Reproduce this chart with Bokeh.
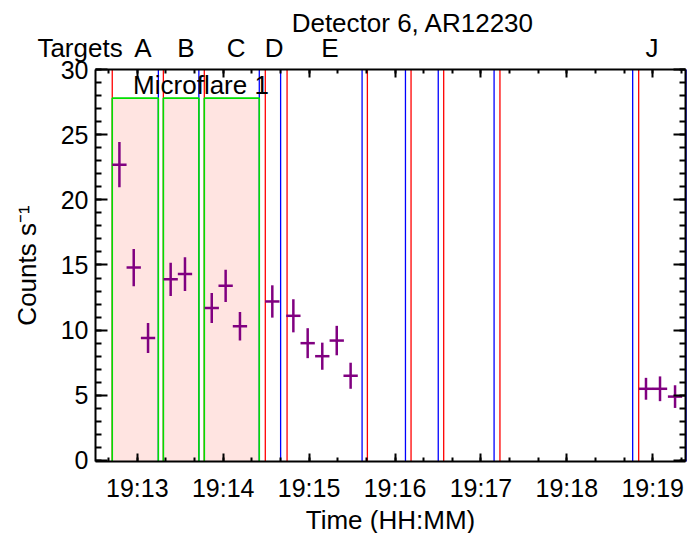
import numpy as np
from bokeh.plotting import figure
from bokeh.models import LinearAxis, FixedTicker, Range1d, CustomLabelingPolicy
from bokeh.core.properties import value
from bokeh.embed import file_html
from bokeh.resources import INLINE


def tmin(s):
    """'HH:MM:SS.s' -> minutes after 19:00"""
    h, m, sec = s.split(":")
    return (int(h) - 19) * 60 + int(m) + float(sec) / 60.0


# ---------------- data ----------------
bin_times = ["19:12:47.5", "19:12:57.5", "19:13:07.5", "19:13:23.3", "19:13:33.3",
             "19:13:52.0", "19:14:01.7", "19:14:11.7", "19:14:34.3", "19:14:49.0",
             "19:14:59.0", "19:15:09.2", "19:15:19.3", "19:15:29.0", "19:18:55.3",
             "19:19:05.1", "19:19:15.6"]
counts = [22.7, 14.8, 9.4, 13.9, 14.3, 11.7, 13.4, 10.3, 12.2, 11.1,
          9.0, 8.0, 9.2, 6.5, 5.5, 5.5, 4.9]
errors = [1.74, 1.43, 1.15, 1.28, 1.29, 1.15, 1.24, 1.09, 1.24, 1.27,
          1.15, 1.04, 1.13, 1.0, 0.84, 0.95, 0.87]
bin_width_s = 10.0

red_lines = ["19:12:42.5", "19:13:18.2", "19:13:46.8", "19:14:29.4", "19:14:44.6",
             "19:15:40.7", "19:16:11.2", "19:16:34.0", "19:17:13.3", "19:18:50.2"]
blue_lines = ["19:13:14.7", "19:13:43.0", "19:14:25.2", "19:14:40.1", "19:15:37.0",
              "19:16:07.3", "19:16:30.2", "19:17:09.2", "19:18:46.0", "19:19:23.3"]

box_start = ["19:12:42.5", "19:13:18.2", "19:13:46.8"]
box_end = ["19:13:14.7", "19:13:43.0", "19:14:25.2"]
box_top = 27.8
flare_label = "Microflare 1"
flare_label_time = "19:13:44.5"

target_names = ["Targets", "A", "B", "C", "D", "E", "J"]
target_times = ["19:12:20.0", "19:13:04.0", "19:13:34.0", "19:14:09.0",
                "19:14:35.5", "19:15:14.6", "19:18:59.5"]

title_text = "Detector 6, AR12230"
title_time = "19:16:12.6"

x_ticks = [13, 14, 15, 16, 17, 18, 19]
x_tick_labels = ["19:13", "19:14", "19:15", "19:16", "19:17", "19:18", "19:19"]
y_ticks = [0, 5, 10, 15, 20, 25, 30]

x_start, x_end = "19:12:30.8", "19:19:22.9"
y_start, y_end = -0.08, 30.0

# ---------------- layout / style ----------------
W, H = 692, 533
BOX_LEFT, BOX_W = 95, 590      # axes box position inside the canvas (px)
BOX_TOP, BOX_H = 69, 392
TITLE_Y_PX, TARGET_Y_PX = 22, 47
FONT = "Liberation Sans"
FS_TICK = "25px"
FS_TEXT = "26px"
PURPLE = "#800080"

x0, x1 = tmin(x_start), tmin(x_end)
ppm = BOX_W / (x1 - x0)               # px per minute
ppu = BOX_H / (y_end - y_start)       # px per count

t = np.array([tmin(s) for s in bin_times])
c = np.array(counts)
e = np.array(errors)
hw = bin_width_s / 2.0 / 60.0

p = figure(width=W, height=H,
           x_range=Range1d(x0 - BOX_LEFT / ppm, x1 + (W - BOX_LEFT - BOX_W) / ppm),
           y_range=Range1d(y_start - (H - BOX_TOP - BOX_H) / ppu, y_end + BOX_TOP / ppu),
           min_border=0, output_backend="svg", toolbar_location=None,
           x_axis_location=None, y_axis_location=None)
p.xgrid.visible = False
p.ygrid.visible = False
p.outline_line_color = None
p.background_fill_color = "white"
p.border_fill_color = "white"

# shaded microflare intervals
bs = [tmin(s) for s in box_start]
be = [tmin(s) for s in box_end]
p.quad(left=bs, right=be, bottom=y_start, top=box_top,
       fill_color="#FFE4E1", line_color=None)

# target pointing lines
rl = [tmin(s) for s in red_lines]
bl = [tmin(s) for s in blue_lines]
p.segment(x0=rl, x1=rl, y0=[y_start] * len(rl), y1=[y_end] * len(rl),
          line_color="#FF0000", line_width=1.3)
p.segment(x0=bl, x1=bl, y0=[y_start] * len(bl), y1=[y_end] * len(bl),
          line_color="#0000FF", line_width=1.3)

# green box outlines
xs, ys = [], []
for a, b in zip(bs, be):
    xs.append([a, a, b, b])
    ys.append([y_start, box_top, box_top, y_start])
p.multi_line(xs=xs, ys=ys, line_color="#00E000", line_width=1.6)

# data points with error bars
p.segment(x0=t - hw, x1=t + hw, y0=c, y1=c, line_color=PURPLE, line_width=2.5)
p.segment(x0=t, x1=t, y0=c - e, y1=c + e, line_color=PURPLE, line_width=2.5)

# texts
p.text(x=[tmin(flare_label_time)], y=[28.78], text=[flare_label],
       text_font=value(FONT), text_font_size=value(FS_TEXT),
       text_align="center", text_baseline="middle", text_color="black")
p.text(x=[tmin(title_time)], y=[y_end + (BOX_TOP - TITLE_Y_PX) / ppu], text=[title_text],
       text_font=value(FONT), text_font_size=value(FS_TEXT),
       text_align="center", text_baseline="middle", text_color="black")
p.text(x=[tmin(s) for s in target_times],
       y=[y_end + (BOX_TOP - TARGET_Y_PX) / ppu] * len(target_times),
       text=target_names, text_font=value(FONT), text_font_size=value(FS_TEXT),
       text_align="center", text_baseline="middle", text_color="black")

# ---------------- axes (drawn at the box edges) ----------------
minor_x = list(np.arange(12 + 2 / 3, 19.4, 1 / 3))
xticker = FixedTicker(ticks=x_ticks, minor_ticks=minor_x)
yticker = FixedTicker(ticks=y_ticks, minor_ticks=list(range(0, 31)))


def style(ax, tin, show):
    ax.axis_line_width = 2
    ax.major_tick_line_width = 2
    ax.minor_tick_line_width = 2
    ax.major_tick_in = tin
    ax.major_tick_out = 0
    ax.minor_tick_in = tin // 2
    ax.minor_tick_out = 0
    ax.major_label_text_font = FONT
    ax.major_label_text_font_size = FS_TICK
    ax.major_label_text_color = "black"
    ax.axis_label_text_font = FONT
    ax.axis_label_text_font_style = "normal"
    ax.axis_label_text_font_size = FS_TEXT
    ax.axis_label_text_color = "black"
    if not show:
        ax.major_label_policy = CustomLabelingPolicy(code="return []")
        ax.major_label_standoff = 0


xb = LinearAxis(ticker=xticker, axis_label="Time (HH:MM)",
                major_label_overrides={k: v for k, v in zip(x_ticks, x_tick_labels)},
                fixed_location=y_start, bounds=(x0, x1))
style(xb, 8, True)
xb.major_label_standoff = 12
xb.axis_label_standoff = 0
p.add_layout(xb, "below")

xa = LinearAxis(ticker=xticker, fixed_location=y_end, bounds=(x0, x1))
style(xa, 8, False)
p.add_layout(xa, "above")

yl = LinearAxis(ticker=yticker, axis_label="Counts s\u207b\u00b9",
                fixed_location=x0, bounds=(y_start, y_end))
style(yl, 12, True)
yl.major_label_standoff = 7
yl.axis_label_standoff = 16
p.add_layout(yl, "left")

yr = LinearAxis(ticker=yticker, fixed_location=x1, bounds=(y_start, y_end))
style(yr, 12, False)
p.add_layout(yr, "right")

open("out.html", "w").write(file_html(p, INLINE))
